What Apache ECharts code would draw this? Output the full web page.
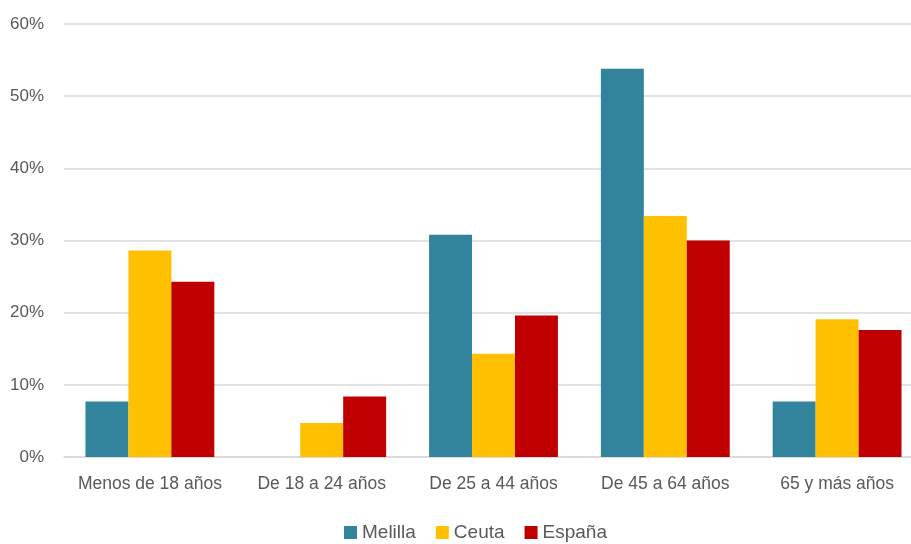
<!DOCTYPE html>
<html><head><meta charset="utf-8">
<script src="https://cdn.jsdelivr.net/npm/echarts@6/dist/echarts.min.js"></script>
<style>html,body{margin:0;padding:0;background:#fff;overflow:hidden}#c{width:911px;height:544px}</style>
</head><body><div id="c"></div>
<script>
const categories = ['Menos de 18 años','De 18 a 24 años','De 25 a 44 años','De 45 a 64 años','65 y más años'];
const melilla = [7.7, 0, 30.8, 53.8, 7.7];
const ceuta = [28.6, 4.7, 14.3, 33.4, 19.1];
const espana = [24.3, 8.4, 19.6, 30.0, 17.6];
const yTicks = [0,10,20,30,40,50,60];

const chart = echarts.init(document.getElementById('c'));
const font = '"Liberation Sans", Arial, sans-serif';
chart.setOption({
  animation:false,
  textStyle:{fontFamily:font},
  grid:{left:64,right:-12,top:24,bottom:87,outerBoundsMode:'none',containLabel:false},
  legend:{bottom:-3,left:339,itemWidth:13,itemHeight:13,itemGap:20,icon:'rect',
    textStyle:{fontSize:19,color:'#595959',fontFamily:font},
    data:['Melilla','Ceuta','España']},
  xAxis:{type:'category',data:categories,
    axisLine:{lineStyle:{color:'#d9d9d9',width:1.5}},axisTick:{show:false},
    axisLabel:{interval:0,fontSize:17.5,color:'#595959',margin:18,fontFamily:font}},
  yAxis:{type:'value',min:yTicks[0],max:yTicks[yTicks.length-1],interval:10,
    axisLabel:{formatter:v=>v+'%',fontSize:17,color:'#595959',margin:20,fontFamily:font},
    splitLine:{lineStyle:{color:'#d9d9d9',width:1.5}},axisLine:{show:false},axisTick:{show:false}},
  series:[
    {name:'Melilla',type:'bar',data:melilla,itemStyle:{color:'#31849B'},barGap:'0%',barCategoryGap:'25%'},
    {name:'Ceuta',type:'bar',data:ceuta,itemStyle:{color:'#FFC000'}},
    {name:'España',type:'bar',data:espana,itemStyle:{color:'#C00000'}}
  ]
});
</script></body></html>
